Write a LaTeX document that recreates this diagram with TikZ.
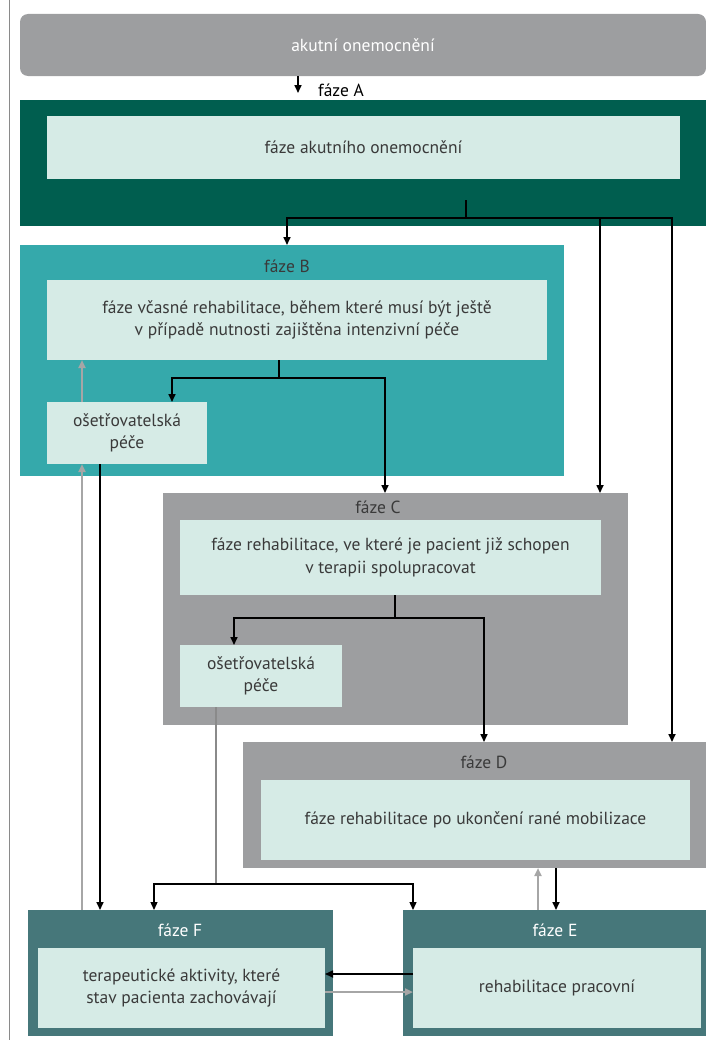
\documentclass[tikz,border=0pt]{standalone}
\usepackage{fontspec}
\setmainfont{PT Sans}
\usetikzlibrary{arrows.meta,calc}
\definecolor{cgray}{HTML}{9D9EA0}
\definecolor{cdark}{HTML}{005E4F}
\definecolor{cteal}{HTML}{35A9AB}
\definecolor{cslate}{HTML}{46777A}
\definecolor{clight}{HTML}{D6EBE6}
\definecolor{ctext}{HTML}{3A3A3A}
\definecolor{carrg}{HTML}{A6A6A6}
\definecolor{cline}{HTML}{8A8A8A}
\tikzset{
  panel/.style={inner sep=0pt, outer sep=0pt, draw=none, anchor=north west, align=center,
    text=ctext, font=\fontsize{17.5}{22.5}\selectfont},
  ttl/.style={inner sep=0pt, font=\fontsize{17.5}{22}\selectfont},
  arr/.style={draw=black, line width=1.6pt, -{Triangle[length=8pt,width=7pt]}},
  blk/.style={draw=black, line width=1.6pt},
  garr/.style={draw=carrg, line width=2pt, -{Triangle[length=8pt,width=7pt]}},
  gln/.style={draw=cline, line width=1.3pt}
}
\newcommand\mkbox[8]{\node[panel,fill=#6,minimum width={#4-#2},minimum height={#5-#3},#7] (#1) at (#2,#3) {#8};}
\begin{document}
\begin{tikzpicture}[x=1pt,y=-1pt]
\useasboundingbox (0,0) rectangle (706,1041);
% left rule
\coordinate (lt) at (9,0); \coordinate (lb) at (9,1040);
\draw[cline, line width=1pt] (lt) -- (lb);
% boxes
\mkbox{top}{20}{14}{706}{76}{cgray}{rounded corners=8pt,text=white}{akutní onemocnění}
\mkbox{A}{20}{100}{706}{226}{cdark}{}{}
\mkbox{aIn}{47}{116}{680}{179}{clight}{}{fáze akutního onemocnění}
\mkbox{B}{20}{245}{564}{476}{cteal}{}{}
\mkbox{bIn}{47}{280}{547}{360}{clight}{}{fáze včasné rehabilitace, během které musí být ještě\\v případě nutnosti zajištěna intenzivní péče}
\mkbox{bOs}{47}{402}{207}{464}{clight}{}{ošetřovatelská\\péče}
\mkbox{C}{163}{493}{628}{725}{cgray}{}{}
\mkbox{cIn}{180}{520}{601}{595}{clight}{}{fáze rehabilitace, ve které je pacient již schopen\\v terapii spolupracovat}
\mkbox{cOs}{180}{645}{342}{707}{clight}{}{ošetřovatelská\\péče}
\mkbox{D}{243}{742}{706}{868}{cgray}{}{}
\mkbox{dIn}{261}{780}{690}{860}{clight}{}{fáze rehabilitace po ukončení rané mobilizace}
\mkbox{F}{28}{910}{333}{1036}{cslate}{}{}
\mkbox{fIn}{38}{948}{325}{1028}{clight}{}{terapeutické aktivity, které\\stav pacienta zachovávají}
\mkbox{E}{403}{910}{706}{1036}{cslate}{}{}
\mkbox{eIn}{413}{948}{701}{1028}{clight}{}{rehabilitace pracovní}
% titles
\node[ttl,text=black] (tA) at (341,90) {fáze A};
\node[ttl,text=ctext] (tB) at (287,266) {fáze B};
\node[ttl,text=ctext] (tC) at (378,507) {fáze C};
\node[ttl,text=ctext] (tD) at (484,762) {fáze D};
\node[ttl,text=white] (tF) at (180,930) {fáze F};
\node[ttl,text=white] (tE) at (555,930) {fáze E};
% coordinates
\coordinate (aEnd) at (298,93);
\coordinate (aS) at (466,200); \coordinate (aH) at (466,218);
\coordinate (aB) at (287,218); \coordinate (aC) at (600,218); \coordinate (aD) at (672,218);
\coordinate (bS) at (279,360); \coordinate (bH) at (279,378);
\coordinate (bL) at (172,378); \coordinate (bR) at (385,378);
\coordinate (x82) at (82,0); \coordinate (x100) at (100,0);
\coordinate (cS) at (395,595); \coordinate (cH) at (395,618);
\coordinate (cL) at (234,618); \coordinate (cR) at (484,618);
\coordinate (cJ) at (216,884); \coordinate (jL) at (154,884); \coordinate (jR) at (413,884);
\coordinate (x216) at (216,0);
\coordinate (x538) at (538,0); \coordinate (x556) at (556,0);
\coordinate (y974) at (0,974); \coordinate (y992) at (0,992);
% connectors
\draw[arr] (top.south -| aEnd) -- (aEnd);
\draw[blk] (aS) -- (aH);
\draw[arr] (aH) -- (aB) -- (aB |- B.north);
\draw[arr] (aH) -- (aC) -- (aC |- C.north);
\draw[arr] (aC) -- (aD) -- (aD |- D.north);
\draw[blk] (bS) -- (bH);
\draw[arr] (bH) -- (bL) -- (bL |- bOs.north);
\draw[arr] (bH) -- (bR) -- (bR |- C.north);
\draw[garr] (bOs.north -| x82) -- (bIn.south -| x82);
\draw[garr] (F.north -| x82) -- (bOs.south -| x82);
\draw[arr] (bOs.south -| x100) -- (F.north -| x100);
\draw[blk] (cS) -- (cH);
\draw[arr] (cH) -- (cL) -- (cL |- cOs.north);
\draw[arr] (cH) -- (cR) -- (cR |- D.north);
\draw[gln] (cOs.south -| x216) -- (cJ);
\draw[arr, line width=1.3pt] (cJ) -- (jL) -- (jL |- F.north);
\draw[arr, line width=1.3pt] (cJ) -- (jR) -- (jR |- E.north);
\draw[garr] (E.north -| x538) -- (D.south -| x538);
\draw[arr] (D.south -| x556) -- (E.north -| x556);
\draw[arr] (eIn.west |- y974) -- (fIn.east |- y974);
\draw[garr] (fIn.east |- y992) -- (eIn.west |- y992);
\end{tikzpicture}
\end{document}
